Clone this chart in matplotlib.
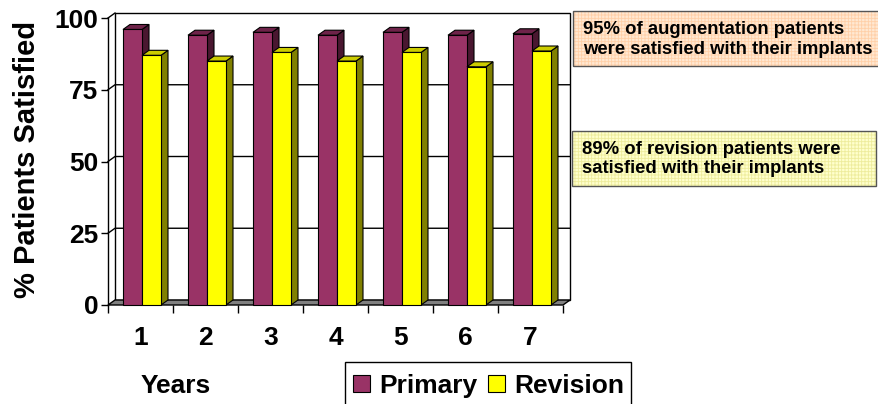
import matplotlib
matplotlib.use("Agg")
import matplotlib.pyplot as plt
from matplotlib.patches import Polygon, Rectangle, Patch

# data
years = ["1", "2", "3", "4", "5", "6", "7"]
primary = [96, 94, 95, 94, 95, 94, 94.5]
revision = [87, 85, 88, 85, 88, 83, 88.5]
y_ticks = [0, 25, 50, 75, 100]
note_primary = ["95% of augmentation patients", "were satisfied with their implants"]
note_revision = ["89% of revision patients were", "satisfied with their implants"]

W, H = 879, 404
plt.rcParams['font.family'] = ['Liberation Sans', 'DejaVu Sans']
plt.rcParams['font.weight'] = 'bold'
plt.rcParams['hatch.linewidth'] = 0.6

fig = plt.figure(figsize=(W / 100, H / 100), dpi=100)
fig.patch.set_facecolor('white')


def fx(x):
    return x / W


def fy(y):
    return 1 - y / H


ax = fig.add_axes([fx(108), fy(305), 455 / W, 287 / H])
ax.set_xlim(0, len(years))
ax.set_ylim(0, 100)
ax.patch.set_alpha(0)

# depth of the fake 3d box, in data units
dx = 7 / 65
dy = 5 / 2.87
n = len(years)

# back wall + left wall
ax.add_patch(Polygon([(dx, dy), (n + dx, dy), (n + dx, 100 + dy), (dx, 100 + dy)],
                     closed=True, fc='white', ec='black', lw=1, clip_on=False, zorder=1))
ax.plot([0, dx], [100, 100 + dy], color='black', lw=1, clip_on=False, zorder=1)
for t in y_ticks[1:-1]:
    ax.plot([0, dx, n + dx], [t, t + dy, t + dy], color='black', lw=1, clip_on=False, zorder=1)

# floor
ax.add_patch(Polygon([(0, 0), (n, 0), (n + dx, dy), (dx, dy)], closed=True,
                     fc='#808080', ec='black', lw=1, clip_on=False, zorder=2))

bar_w = 19 / 65
off = 15 / 65


def bar3d(x0, v, front, top, side):
    x1 = x0 + bar_w
    ax.add_patch(Polygon([(x1, 0), (x1 + dx, dy), (x1 + dx, v + dy), (x1, v)], closed=True,
                         fc=side, ec='black', lw=0.8, clip_on=False, zorder=3))
    ax.add_patch(Polygon([(x0, v), (x1, v), (x1 + dx, v + dy), (x0 + dx, v + dy)], closed=True,
                         fc=top, ec='black', lw=0.8, clip_on=False, zorder=3))
    ax.add_patch(Rectangle((x0, 0), bar_w, v, fc=front, ec='black', lw=0.8,
                           clip_on=False, zorder=3))


for i in range(n):
    bar3d(i + off, primary[i], '#993366', '#6E2349', '#4A1730')
    bar3d(i + off + bar_w, revision[i], '#FFFF00', '#CCCC00', '#808000')

# axes and ticks
for s in ['top', 'right']:
    ax.spines[s].set_visible(False)
ax.spines['bottom'].set_visible(False)
ax.spines['left'].set_linewidth(1)
ax.spines['left'].set_zorder(4)
ax.set_yticks(y_ticks)
ax.set_yticklabels([str(t) for t in y_ticks], fontsize=19, fontweight='bold')
ax.tick_params(axis='y', length=5, width=1, pad=2)
ax.set_xticks(range(n + 1))
ax.set_xticklabels([''] * (n + 1))
ax.tick_params(axis='x', which='major', length=6, width=1)
ax.set_xticks([i + 0.5 for i in range(n)], minor=True)
ax.set_xticklabels(years, minor=True, fontsize=19, fontweight='bold')
ax.tick_params(axis='x', which='minor', length=0, pad=15)

fig.text(fx(27), fy(159), '% Patients Satisfied', rotation=90, ha='center', va='center',
         fontsize=21, fontweight='bold')
fig.text(fx(176), fy(386), 'Years', ha='center', va='center', fontsize=19, fontweight='bold')

# legend (frame drawn separately, it runs off the bottom edge)
handles = [Patch(fc='#993366', ec='black', lw=0.8, label='Primary'),
           Patch(fc='#FFFF00', ec='black', lw=0.8, label='Revision')]
leg = fig.legend(handles=handles, loc='upper left', bbox_to_anchor=(fx(345), fy(366)),
                 ncol=2, frameon=False, prop={'weight': 'bold', 'size': 19},
                 handlelength=0.65, handleheight=0.65, handletextpad=0.35, columnspacing=0.4,
                 borderpad=0.3, borderaxespad=0)
fig.patches.append(Rectangle((fx(345), fy(412)), (631 - 345) / W, 50 / H,
                             transform=fig.transFigure, fc='white', ec='black', lw=1, zorder=0))

# note boxes
def note(x0, y0, x1, y1, fill, grid, lines, tx, ty):
    fig.patches.append(Rectangle((fx(x0), fy(y1)), (x1 - x0) / W, (y1 - y0) / H,
                                 transform=fig.transFigure, fc=fill, ec='none', zorder=1))
    fig.patches.append(Rectangle((fx(x0), fy(y1)), (x1 - x0) / W, (y1 - y0) / H,
                                 transform=fig.transFigure, fill=False, ec=grid, lw=0,
                                 hatch='+++++', zorder=1))
    fig.patches.append(Rectangle((fx(x0), fy(y1)), (x1 - x0) / W, (y1 - y0) / H,
                                 transform=fig.transFigure, fill=False, ec='#555555', lw=1, zorder=2))
    for k, line in enumerate(lines):
        fig.text(fx(tx), fy(ty + 20 * k), line, ha='left', va='center', fontsize=13.3,
                 fontweight='bold', zorder=3)


note(573, 11, 895, 66, '#FFE8D2', '#FFD0A8', note_primary, 583, 29)
note(572, 131, 876, 186, '#FFFFCC', '#EEEC9C', note_revision, 582, 149)

fig.savefig('out.png', dpi=100)
